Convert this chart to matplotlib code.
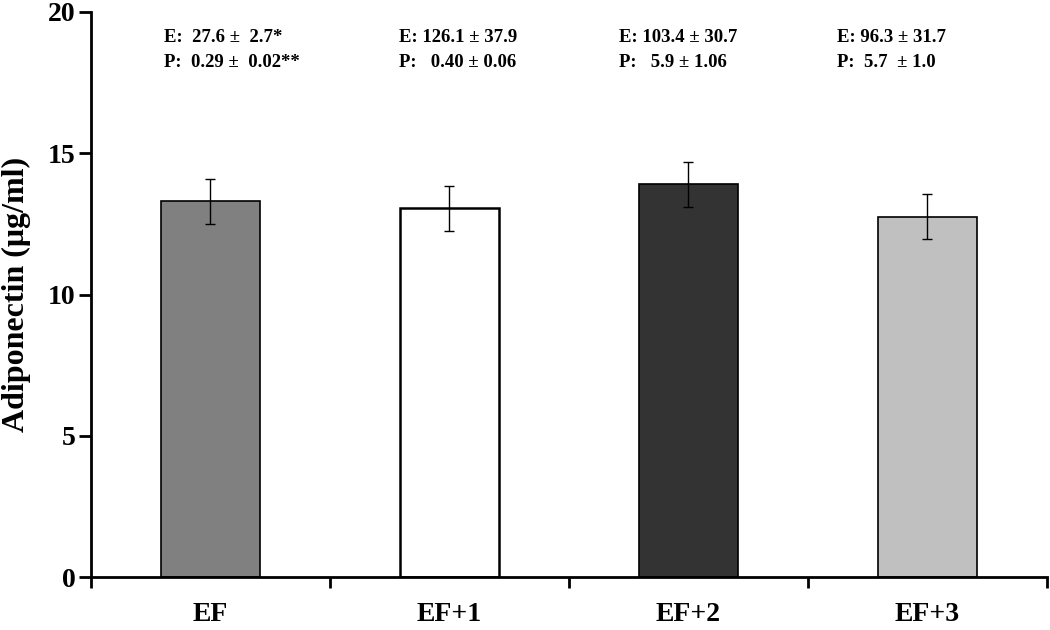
import matplotlib
matplotlib.use("Agg")
from matplotlib import pyplot as plt
import numpy as np

groups = ["EF", "EF+1", "EF+2", "EF+3"]
adiponectin = [13.3, 13.05, 13.9, 12.75]
adiponectin_err = [0.8, 0.8, 0.8, 0.8]
e_text = ["E:  27.6 \u00b1  2.7*", "E: 126.1 \u00b1 37.9", "E: 103.4 \u00b1 30.7", "E: 96.3 \u00b1 31.7"]
p_text = ["P:  0.29 \u00b1  0.02**", "P:   0.40 \u00b1 0.06", "P:   5.9 \u00b1 1.06", "P:  5.7  \u00b1 1.0"]

bar_colors = ["#808080", "#ffffff", "#333333", "#c0c0c0"]
text_x = [-0.195, 0.79, 1.71, 2.622]

plt.rcParams["font.family"] = ["Liberation Serif", "DejaVu Serif"]
plt.rcParams["font.weight"] = "bold"

fig = plt.figure(figsize=(10.5, 6.3), dpi=100)
ax = fig.add_axes([0.0867, 0.084, 0.91, 0.897])

x = np.arange(len(groups))
ax.bar(x, adiponectin, width=0.415, color=bar_colors, edgecolor="black",
       linewidth=[1.2, 1.8, 1.2, 1.2], zorder=2)
ax.errorbar(x, adiponectin, yerr=adiponectin_err, fmt="none", ecolor="black",
            elinewidth=1, capsize=3.3, capthick=1, zorder=3)

for i in range(len(groups)):
    ax.text(text_x[i], 19.1, e_text[i], fontsize=13.5, fontweight="bold", ha="left", va="center")
    ax.text(text_x[i], 18.22, p_text[i], fontsize=13.5, fontweight="bold", ha="left", va="center")

ax.set_xlim(-0.5, 3.5)
ax.set_ylim(0, 20)
ax.set_yticks([0, 5, 10, 15, 20])
ax.tick_params(axis="y", direction="out", length=9, width=2, labelsize=20, pad=2)

# boundaries as ticks, labels at centres
ax.set_xticks(np.arange(-0.5, 3.6, 1.0))
ax.set_xticklabels([])
ax.tick_params(axis="x", which="major", direction="out", length=8, width=2)
ax.set_xticks(x, minor=True)
ax.set_xticklabels(groups, minor=True)
ax.tick_params(axis="x", which="minor", length=0, labelsize=20, pad=18)

for t in ax.get_yticklabels() + ax.get_xticklabels(minor=True):
    t.set_fontweight("bold")

ax.spines["top"].set_visible(False)
ax.spines["right"].set_visible(False)
ax.spines["left"].set_linewidth(2)
ax.spines["bottom"].set_linewidth(2)

ax.set_ylabel("Adiponectin (\u03bcg/ml)", fontsize=23, fontweight="bold", labelpad=12)

fig.savefig("out.png", dpi=100)
